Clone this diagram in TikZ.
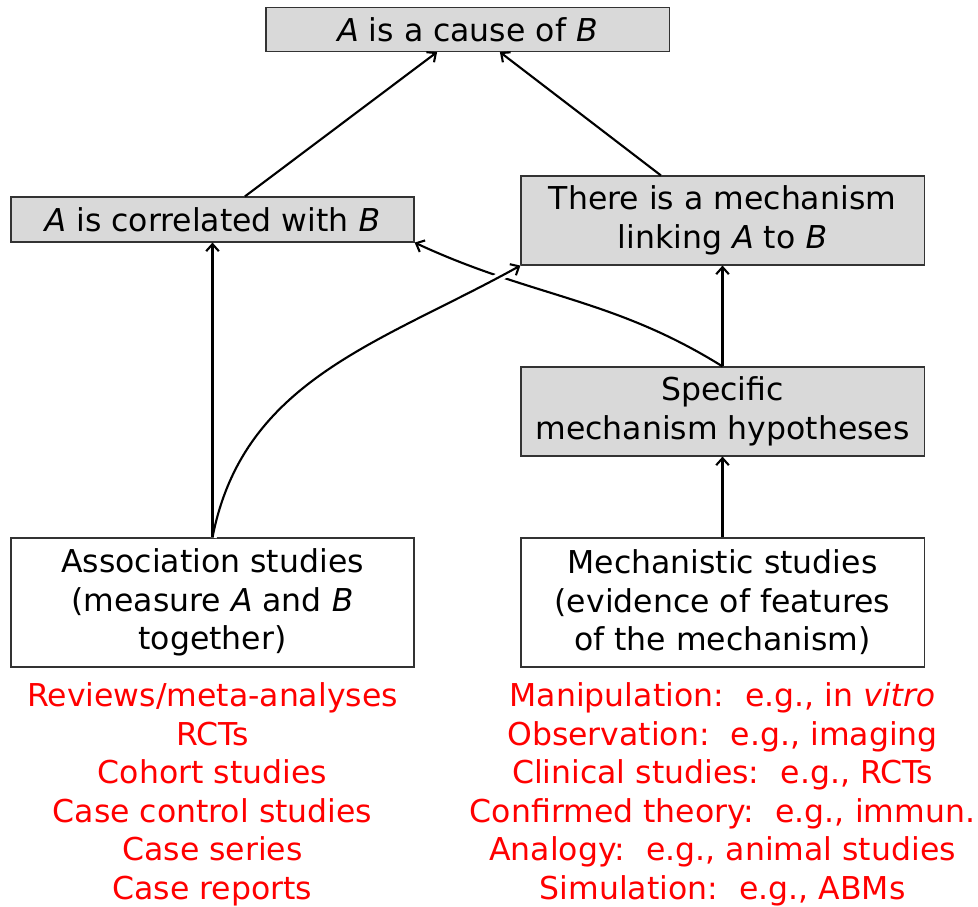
\documentclass[tikz,border=0pt]{standalone}
\usepackage{fontspec}
\setmainfont{DejaVu Sans}
\usetikzlibrary{arrows.meta}

\begin{document}
\begin{tikzpicture}[->,>={Straight Barb[length=5pt,width=9pt]},x=0.025cm,y=-0.025cm,line width=1.5pt,
                    font=\fontsize{22.4}{27.4}\selectfont,
                    claim/.style={draw=black!80,line width=0.8pt,fill=black!15,
                      minimum width=10.075cm,align=center,inner sep=0pt},
                    study/.style={draw=black!80,line width=0.8pt,fill=white,
                      minimum width=10.075cm,minimum height=3.225cm,align=center,inner sep=0pt},
                    examples/.style={text=red,align=center,inner sep=0pt}]
  \useasboundingbox (0,0) rectangle (978,906);
  \newcommand{\eg}{:\hspace{0.25em} e.g.,}

  \node[claim,minimum height=1.1cm]   (cause) at (467.5,29.5)  {\textit{A} is a cause of \textit{B}};
  \node[claim,minimum height=1.125cm] (corr)  at (212.5,219.5) {\textit{A} is correlated with \textit{B}};
  \node[claim,minimum height=2.225cm] (mech)  at (722.5,220.5) {There is a mechanism\\linking \textit{A} to \textit{B}};
  \node[claim,minimum height=2.225cm] (spec)  at (722.5,411.5) {Specific\\mechanism hypotheses};
  \node[study] (assoc) at (212.5,602.5) {Association studies\\(measure \textit{A} and \textit{B}\\together)};
  \node[study] (mstud) at (722.5,602.5) {Mechanistic studies\\(evidence of features\\of the mechanism)};

  \node[examples] (assocex) at (212.5,794.5) {Reviews/meta-analyses\\RCTs\\Cohort studies\\Case control studies\\Case series\\Case reports};
  \node[examples] (mstudex) at (722.5,794.5) {Manipulation\eg{} in \textit{vitro}\\Observation\eg{} imaging\\Clinical studies\eg{} RCTs\\Confirmed theory\eg{} immun.\\Analogy\eg{} animal studies\\Simulation\eg{} ABMs};

  \draw ([xshift=0.81cm]corr.north) -- ([xshift=-0.76cm]cause.south);
  \draw ([xshift=-1.54cm]mech.north) -- ([xshift=0.81cm]cause.south);
  \draw (mstud.north) -- (spec.south);
  \draw (spec.north) -- (mech.south);
  \draw (spec.north) to[out=148,in=-25] (corr.south east);
  \draw[preaction={draw=white,line width=6pt,-}] (assoc.north) to[out=79,in=-151] (mech.south west);
  \draw (assoc.north) -- (corr.south);
\end{tikzpicture}
\end{document}
